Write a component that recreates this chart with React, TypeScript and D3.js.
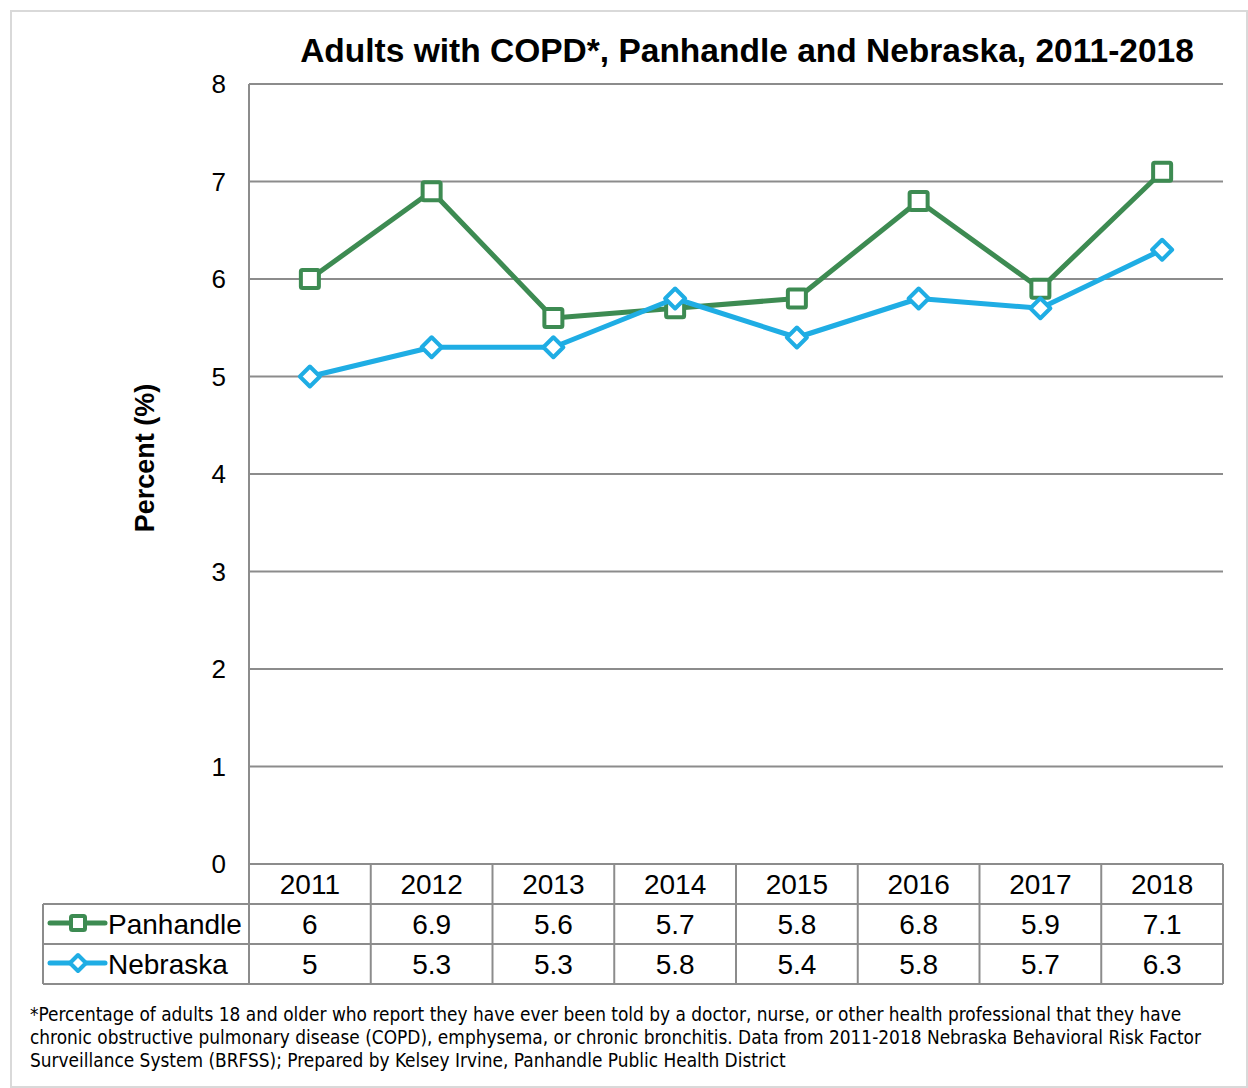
import React from "react";
import * as d3 from "d3";

const years = ["2011", "2012", "2013", "2014", "2015", "2016", "2017", "2018"];
const panhandle = [6, 6.9, 5.6, 5.7, 5.8, 6.8, 5.9, 7.1];
const nebraska = [5, 5.3, 5.3, 5.8, 5.4, 5.8, 5.7, 6.3];
const yTicks = [0, 1, 2, 3, 4, 5, 6, 7, 8];
const footnote = [
  "*Percentage of adults 18 and older who report they have ever been told by a doctor, nurse, or other health professional that they have",
  "chronic obstructive pulmonary disease (COPD), emphysema, or chronic bronchitis. Data from 2011-2018 Nebraska Behavioral Risk Factor",
  "Surveillance System (BRFSS); Prepared by Kelsey Irvine, Panhandle Public Health District",
];

const GREEN = "#3d8b52";
const BLUE = "#1fade4";
const GRID = "#8c8c8c";

export default function App() {
  const W = 1248, H = 1088;
  const left = 249, right = 1223, top = 84, bottom = 864;
  const x = d3.scaleBand<string>().domain(years).range([left, right]);
  const y = d3.scaleLinear().domain([0, 8]).range([bottom, top]);
  const cx = (d: string) => (x(d) as number) + x.bandwidth() / 2;
  const line = d3.line<number>().x((_, i) => cx(years[i])).y((v) => y(v));
  const rowH = 40;
  const tableLeft = 43;
  const font = "'Liberation Sans', Arial, sans-serif";

  const square = (px: number, py: number, s: number, key?: any) => (
    <rect key={key} x={px - s / 2} y={py - s / 2} width={s} height={s} fill="#fff" stroke={GREEN} strokeWidth={4} rx={1.5} />
  );
  const diamond = (px: number, py: number, s: number, key?: any) => (
    <path key={key} d={`M${px},${py - s / 2}L${px + s / 2},${py}L${px},${py + s / 2}L${px - s / 2},${py}Z`} fill="#fff" stroke={BLUE} strokeWidth={4} strokeLinejoin="round" />
  );

  return (
    <svg width={W} height={H} style={{ position: "absolute", left: 0, top: 0, background: "#fff" }}>
      <rect x={11} y={11} width={W - 12} height={H - 12} fill="#fff" stroke="#d9d9d9" strokeWidth={2} />
      <text x={747} y={62} textAnchor="middle" fontFamily={font} fontWeight="bold" fontSize={33.5}>
        Adults with COPD*, Panhandle and Nebraska, 2011-2018
      </text>
      {yTicks.map((t) => (
        <g key={t}>
          {t > 0 && <line x1={left} x2={right} y1={y(t)} y2={y(t)} stroke={GRID} strokeWidth={2} />}
          <text x={226} y={y(t) + 9} textAnchor="end" fontFamily={font} fontSize={26}>{t}</text>
        </g>
      ))}
      <line x1={left} x2={left} y1={top} y2={bottom} stroke={GRID} strokeWidth={2} />
      <text transform={`translate(154,458) rotate(-90)`} textAnchor="middle" fontFamily={font} fontWeight="bold" fontSize={27}>
        Percent (%)
      </text>
      {/* table */}
      <g stroke={GRID} strokeWidth={2}>
        <line x1={left} x2={right} y1={bottom} y2={bottom} />
        <line x1={tableLeft} x2={right} y1={bottom + rowH} y2={bottom + rowH} />
        <line x1={tableLeft} x2={right} y1={bottom + 2 * rowH} y2={bottom + 2 * rowH} />
        <line x1={tableLeft} x2={right} y1={bottom + 3 * rowH} y2={bottom + 3 * rowH} />
        <line x1={tableLeft} x2={tableLeft} y1={bottom + rowH} y2={bottom + 3 * rowH} />
        <line x1={right} x2={right} y1={bottom} y2={bottom + 3 * rowH} />
        {years.map((yr) => (
          <line key={yr} x1={x(yr)} x2={x(yr)} y1={bottom} y2={bottom + 3 * rowH} />
        ))}
      </g>
      {years.map((yr, i) => (
        <g key={yr} fontFamily={font} fontSize={28} textAnchor="middle">
          <text x={cx(yr)} y={bottom + 30}>{yr}</text>
          <text x={cx(yr)} y={bottom + rowH + 30}>{panhandle[i]}</text>
          <text x={cx(yr)} y={bottom + 2 * rowH + 30}>{nebraska[i]}</text>
        </g>
      ))}
      {/* legend keys */}
      <line x1={50} x2={105} y1={bottom + rowH * 1.5 - 1} y2={bottom + rowH * 1.5 - 1} stroke={GREEN} strokeWidth={5} strokeLinecap="round" />
      {square(78, bottom + rowH * 1.5 - 1, 14)}
      <text x={108} y={bottom + rowH + 30} fontFamily={font} fontSize={28}>Panhandle</text>
      <line x1={50} x2={105} y1={bottom + rowH * 2.5 - 1} y2={bottom + rowH * 2.5 - 1} stroke={BLUE} strokeWidth={5} strokeLinecap="round" />
      {diamond(78, bottom + rowH * 2.5 - 1, 16)}
      <text x={108} y={bottom + 2 * rowH + 30} fontFamily={font} fontSize={28}>Nebraska</text>
      {/* series */}
      <path d={line(panhandle) as string} fill="none" stroke={GREEN} strokeWidth={5} strokeLinejoin="round" />
      {panhandle.map((v, i) => square(cx(years[i]), y(v), 18, "p" + i))}
      <path d={line(nebraska) as string} fill="none" stroke={BLUE} strokeWidth={5} strokeLinejoin="round" />
      {nebraska.map((v, i) => diamond(cx(years[i]), y(v), 20, "n" + i))}
      {footnote.map((t, i) => (
        <text key={i} x={30} y={1021 + i * 23} fontFamily="'Liberation Sans Narrow', 'DejaVu Sans Condensed', sans-serif" fontSize={18.9}>{t}</text>
      ))}
    </svg>
  );
}
